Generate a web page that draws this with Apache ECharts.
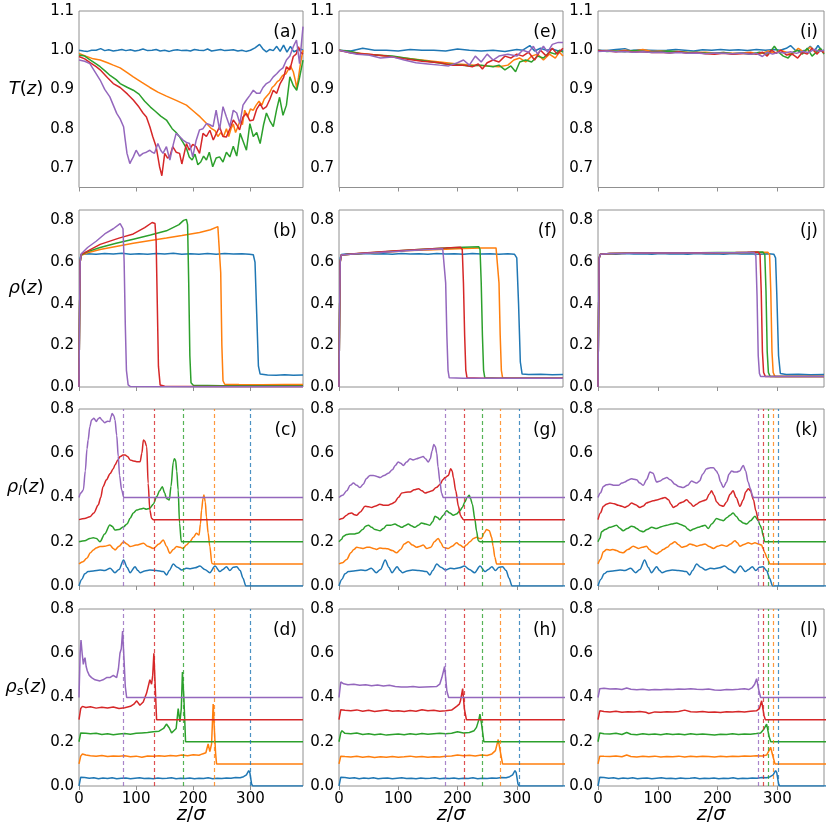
<!DOCTYPE html>
<html><head><meta charset="utf-8">
<script src="https://cdn.jsdelivr.net/npm/echarts@6/dist/echarts.min.js"></script>
<style>html,body{margin:0;padding:0;background:#fff}#c{width:830px;height:830px}</style>
</head><body><div id="c"></div>
<script>
// ---------- tick labels / categories ----------
const X_TICKS = [0, 100, 200, 300];
const Y_TICKS_T = [0.7, 0.8, 0.9, 1.0, 1.1];
const Y_TICKS_RHO = [0, 0.2, 0.4, 0.6, 0.8];
const PANEL_LABELS = [['(a)','(e)','(i)'],['(b)','(f)','(j)'],['(c)','(g)','(k)'],['(d)','(h)','(l)']];
// interface positions (dashed lines): blue, orange, green, red, purple
const FRONTS_COL1 = [300, 237, 183, 131, 78];
const FRONTS_COL2 = [303.5, 272, 242, 211, 180];
const FRONTS_COL3 = [302, 293, 285, 276.5, 268.7];

// ---------- T(z) panel (a) ----------
const T_a_blue = [[0,1.0],[8,0.998],[15,0.997],[22,1.0],[30,1.0],[38,1.004],[45,0.999],[52,1.001],[60,0.998],[68,1.0],[75,1.002],[82,0.999],[90,1.001],[98,0.998],[105,1.0],[112,1.003],[120,0.999],[128,1.0],[135,1.002],[142,0.998],[150,1.0],[158,0.997],[165,1.0],[172,1.001],[180,0.999],[188,1.0],[195,0.998],[202,1.002],[210,1.0],[218,0.999],[225,1.003],[232,0.998],[240,1.0],[248,1.002],[255,0.999],[262,1.0],[270,1.001],[278,0.998],[285,1.0],[292,0.997],[300,1.0],[308,1.006],[316,1.015],[322,1.003],[328,0.996],[334,1.002],[340,0.999],[346,1.01],[352,0.997],[358,1.013],[364,0.995],[370,1.01],[376,0.996],[382,1.0],[388,1.003],[392,1.0]];
const T_a_orange = [[0,0.992],[12,0.985],[25,0.978],[37,0.975],[50,0.968],[60,0.962],[72,0.955],[85,0.942],[95,0.932],[110,0.918],[124,0.905],[138,0.893],[153,0.883],[170,0.872],[188,0.86],[200,0.845],[212,0.83],[222,0.815],[232,0.80],[238,0.795],[243,0.78],[248,0.79],[253,0.78],[258,0.8],[262,0.78],[266,0.8],[270,0.812],[274,0.79],[278,0.805],[282,0.82],[286,0.81],[290,0.847],[295,0.83],[300,0.85],[305,0.847],[310,0.86],[315,0.87],[320,0.86],[324,0.875],[328,0.882],[333,0.89],[338,0.905],[342,0.91],[347,0.92],[351,0.924],[356,0.935],[362,0.94],[366,0.95],[370,0.96],[375,0.945],[379,0.92],[381,0.903],[384,0.93],[388,0.97],[392,1.0]];
const T_a_green = [[0,0.988],[10,0.985],[20,0.975],[30,0.965],[37,0.958],[45,0.948],[55,0.935],[65,0.925],[72,0.915],[85,0.905],[95,0.898],[105,0.888],[115,0.87],[125,0.855],[133,0.845],[143,0.832],[153,0.822],[163,0.80],[170,0.79],[176,0.779],[182,0.765],[188,0.75],[193,0.728],[198,0.72],[203,0.735],[208,0.708],[213,0.715],[218,0.73],[223,0.72],[228,0.74],[234,0.703],[240,0.725],[246,0.728],[252,0.715],[258,0.74],[264,0.728],[270,0.755],[276,0.73],[282,0.788],[288,0.765],[293,0.745],[299,0.813],[305,0.78],[311,0.79],[317,0.762],[323,0.81],[328,0.84],[334,0.82],[340,0.805],[346,0.85],[351,0.88],[357,0.834],[363,0.86],[369,0.932],[375,0.91],[381,0.898],[386,0.93],[392,0.975]];
const T_a_red = [[0,0.984],[10,0.978],[20,0.968],[30,0.958],[37,0.95],[50,0.93],[60,0.915],[72,0.905],[85,0.888],[95,0.873],[105,0.855],[112,0.84],[118,0.83],[124,0.805],[129,0.78],[135,0.754],[141,0.703],[145,0.68],[150,0.737],[155,0.725],[159,0.73],[164,0.754],[170,0.74],[176,0.737],[180,0.71],[188,0.762],[193,0.745],[199,0.76],[205,0.754],[211,0.737],[217,0.788],[223,0.78],[229,0.796],[235,0.771],[241,0.79],[246,0.805],[252,0.78],[258,0.779],[264,0.80],[270,0.822],[276,0.81],[281,0.797],[287,0.83],[293,0.839],[299,0.82],[305,0.822],[311,0.85],[317,0.864],[322,0.85],[328,0.856],[334,0.875],[340,0.898],[346,0.89],[352,0.915],[358,0.93],[363,0.958],[369,0.95],[375,0.984],[380,0.99],[384,1.009],[388,0.995],[392,0.99]];
const T_a_purple = [[0,0.975],[10,0.972],[19,0.966],[28,0.945],[37,0.924],[45,0.9],[54,0.881],[60,0.86],[66,0.839],[72,0.825],[78,0.805],[81,0.77],[84,0.737],[89,0.711],[92,0.72],[95,0.728],[100,0.745],[106,0.73],[112,0.737],[118,0.74],[124,0.745],[128,0.74],[132,0.737],[138,0.762],[143,0.745],[147,0.737],[153,0.754],[159,0.72],[165,0.76],[170,0.788],[176,0.78],[182,0.771],[188,0.765],[193.5,0.762],[199,0.728],[205,0.77],[211,0.797],[217,0.8],[223,0.813],[229,0.81],[234.6,0.805],[240,0.847],[246,0.797],[252,0.856],[258,0.83],[264,0.805],[270,0.847],[276,0.84],[281.5,0.813],[287,0.86],[293,0.873],[299,0.885],[305,0.898],[311,0.89],[316.5,0.89],[322,0.905],[328,0.915],[334,0.92],[340,0.932],[346,0.94],[351.5,0.949],[357,0.955],[363,0.975],[369,0.985],[375,1.009],[380.6,1.026],[386,0.966],[392,1.06]];

// ---------- T(z) panel (e) ----------
const T_e_blue = [[0,1.0],[20,0.998],[40,1.005],[60,1.0],[80,1.0],[100,0.998],[120,1.002],[140,1.0],[160,1.0],[180,0.998],[200,1.003],[220,1.0],[240,0.998],[260,1.0],[280,0.997],[300,1.002],[310,1.0],[322,1.012],[330,0.998],[340,1.005],[350,1.0],[360,1.003],[370,0.998],[378,1.0]];
const T_e_orange = [[0,1.0],[20,0.995],[50,0.99],[80,0.985],[110,0.98],[140,0.975],[170,0.97],[200,0.965],[230,0.962],[250,0.96],[270,0.958],[285,0.962],[295,0.975],[305,0.98],[315,0.97],[325,0.985],[335,0.99],[345,0.975],[355,0.99],[365,0.98],[372,0.995],[378,0.985]];
const T_e_green = [[0,1.0],[20,0.997],[40,0.99],[60,0.988],[90,0.985],[120,0.978],[150,0.972],[180,0.965],[200,0.963],[220,0.96],[240,0.962],[260,0.958],[270,0.962],[280,0.95],[290,0.96],[298,0.945],[305,0.97],[315,0.975],[325,0.97],[335,0.985],[345,0.98],[355,0.995],[365,0.99],[372,1.0],[378,0.995]];
const T_e_red = [[0,1.0],[20,0.993],[50,0.99],[80,0.985],[110,0.978],[140,0.972],[170,0.968],[190,0.962],[210,0.962],[225,0.958],[235,0.965],[242,0.952],[250,0.968],[260,0.975],[270,0.97],[280,0.985],[290,0.98],[300,0.99],[310,0.985],[320,0.995],[330,0.975],[340,1.0],[350,0.985],[360,1.005],[368,0.99],[378,1.005]];
const T_e_purple = [[0,1.0],[15,0.995],[30,0.99],[50,0.988],[70,0.98],[90,0.983],[110,0.975],[130,0.968],[150,0.965],[170,0.962],[185,0.96],[200,0.968],[210,0.975],[220,0.962],[230,0.985],[240,0.97],[250,0.99],[260,0.975],[270,0.985],[285,0.99],[300,0.985],[310,1.0],[320,0.995],[328,1.01],[335,0.99],[345,1.01],[352,0.995],[360,1.015],[370,1.02],[378,1.02]];

// ---------- T(z) panel (i) ----------
const T_i_blue = [[0,1.0],[15,0.999],[30,1.002],[45,1.004],[55,0.999],[70,1.001],[85,1.0],[100,0.999],[115,1.0],[130,1.002],[145,1.0],[160,0.998],[175,1.001],[190,1.0],[205,1.002],[220,1.0],[235,1.001],[250,0.999],[265,1.002],[280,1.0],[295,1.002],[305,1.0],[315,1.005],[322,1.012],[330,1.0],[340,0.998],[348,1.0],[355,1.01],[362,0.998],[368,1.012],[374,0.998],[378,1.0]];
const T_i_orange = [[0,0.998],[15,0.999],[30,0.997],[45,1.0],[60,0.998],[75,1.002],[90,0.997],[105,0.998],[120,0.996],[135,0.997],[150,0.995],[165,0.994],[180,0.995],[195,0.993],[210,0.994],[225,0.992],[240,0.993],[255,0.995],[270,0.99],[285,0.998],[295,0.992],[305,1.0],[315,0.995],[325,0.99],[335,1.005],[345,0.995],[355,1.008],[365,0.993],[372,1.0],[378,0.995]];
const T_i_green = [[0,1.0],[15,0.997],[30,0.998],[45,0.996],[60,0.999],[75,0.997],[90,0.995],[105,0.997],[120,0.998],[135,0.996],[150,0.994],[165,0.995],[180,0.993],[195,0.992],[210,0.994],[225,0.991],[240,0.993],[255,0.99],[270,0.995],[285,0.99],[295,1.01],[302,0.995],[310,0.985],[318,0.98],[326,0.995],[334,1.0],[342,0.99],[350,1.005],[358,0.985],[365,0.995],[372,1.005],[378,0.99]];
const T_i_red = [[0,0.999],[15,0.998],[30,0.996],[45,0.998],[60,0.995],[75,0.997],[90,0.994],[105,0.995],[120,0.993],[135,0.996],[150,0.992],[165,0.994],[180,0.991],[195,0.99],[210,0.992],[225,0.99],[240,0.991],[255,0.992],[265,0.99],[275,0.995],[283,0.985],[290,1.0],[298,0.992],[306,1.0],[315,0.988],[325,0.99],[334,0.98],[342,0.995],[350,0.99],[358,1.005],[366,0.99],[372,1.0],[378,0.993]];
const T_i_purple = [[0,0.997],[15,0.998],[30,0.996],[45,0.997],[60,0.995],[75,0.996],[90,0.994],[105,0.995],[120,0.993],[135,0.994],[150,0.992],[165,0.993],[180,0.991],[195,0.993],[210,0.992],[225,0.991],[240,0.993],[255,0.99],[265,0.992],[275,0.984],[283,0.995],[292,0.99],[302,0.995],[312,0.993],[322,0.996],[332,0.992],[342,0.997],[352,0.994],[362,1.002],[370,0.997],[378,1.0]];

// ---------- rho(z) panel (b) ----------
const rho_b_blue = [[0,0],[1,0.35],[2,0.62],[4,0.636],[15,0.64],[30,0.638],[45,0.641],[60,0.639],[75,0.642],[90,0.638],[105,0.64],[120,0.637],[135,0.641],[150,0.639],[165,0.642],[180,0.638],[195,0.64],[210,0.637],[225,0.641],[240,0.638],[255,0.641],[270,0.639],[285,0.64],[298,0.638],[305,0.635],[308,0.6],[311,0.35],[314,0.1],[317,0.062],[330,0.058],[345,0.057],[360,0.059],[375,0.057],[392,0.058]];
const rho_b_orange = [[0,0],[1,0.35],[2,0.6],[4,0.632],[15,0.645],[37,0.66],[60,0.672],[95,0.69],[125,0.703],[153,0.715],[180,0.727],[211,0.742],[230,0.755],[243,0.77],[246,0.765],[248,0.55],[250,0.2],[252,0.03],[255,0.013],[280,0.012],[320,0.011],[360,0.012],[392,0.012]];
const rho_b_green = [[0,0],[1,0.35],[2,0.6],[4,0.635],[15,0.65],[37,0.67],[65,0.69],[95,0.71],[125,0.73],[153,0.75],[175,0.78],[183,0.8],[188,0.805],[190,0.78],[192,0.5],[194,0.15],[196,0.02],[200,0.008],[250,0.006],[300,0.006],[392,0.006]];
const rho_b_red = [[0,0],[1,0.35],[2,0.6],[4,0.638],[10,0.645],[37,0.685],[70,0.715],[95,0.735],[115,0.765],[128,0.79],[133,0.785],[135,0.7],[137,0.4],[139,0.1],[142,0.01],[150,0.004],[250,0.003],[392,0.003]];
const rho_b_purple = [[0,0],[1,0.35],[2,0.6],[4,0.64],[15,0.67],[30,0.70],[45,0.735],[60,0.76],[72,0.785],[75,0.782],[77,0.76],[79,0.6],[81,0.3],[83,0.08],[86,0.01],[90,0.002],[200,0.001],[392,0.001]];

// ---------- rho(z) panel (f) ----------
const rho_f_blue = [[0,0],[1,0.35],[2,0.62],[4,0.636],[15,0.64],[30,0.638],[45,0.641],[60,0.639],[75,0.64],[90,0.638],[105,0.641],[120,0.639],[135,0.64],[150,0.638],[165,0.641],[180,0.639],[195,0.64],[210,0.638],[225,0.641],[240,0.639],[255,0.64],[270,0.638],[285,0.64],[296,0.638],[300,0.62],[303,0.4],[306,0.12],[309,0.062],[320,0.06],[340,0.061],[360,0.059],[378,0.06]];
const rho_f_orange = [[0,0],[1,0.35],[2,0.6],[4,0.634],[30,0.64],[60,0.645],[90,0.65],[120,0.655],[150,0.658],[180,0.662],[210,0.665],[240,0.667],[265,0.668],[268,0.66],[270,0.5],[272,0.25],[274,0.08],[276,0.045],[290,0.042],[330,0.042],[378,0.042]];
const rho_f_green = [[0,0],[1,0.35],[2,0.6],[4,0.634],[30,0.64],[60,0.646],[90,0.652],[120,0.658],[150,0.663],[180,0.667],[210,0.671],[236,0.673],[238,0.66],[240,0.5],[242,0.25],[244,0.08],[246,0.045],[270,0.042],[378,0.042]];
const rho_f_red = [[0,0],[1,0.35],[2,0.6],[4,0.634],[30,0.641],[60,0.647],[90,0.653],[120,0.658],[150,0.663],[180,0.667],[205,0.671],[208,0.66],[210,0.5],[212,0.25],[214,0.08],[216,0.045],[240,0.042],[378,0.042]];
const rho_f_purple = [[0,0],[1,0.35],[2,0.6],[4,0.634],[30,0.64],[60,0.645],[90,0.65],[120,0.655],[150,0.66],[175,0.664],[178,0.655],[180,0.5],[182,0.25],[184,0.08],[186,0.044],[210,0.042],[378,0.042]];

// ---------- rho(z) panel (j) ----------
const rho_j_blue = [[0,0],[1,0.35],[2,0.62],[4,0.637],[15,0.64],[30,0.638],[45,0.641],[60,0.639],[75,0.64],[90,0.638],[105,0.641],[120,0.639],[135,0.64],[150,0.638],[165,0.641],[180,0.639],[195,0.64],[210,0.638],[225,0.641],[240,0.639],[255,0.64],[270,0.638],[285,0.64],[294,0.638],[297,0.62],[299,0.45],[302,0.15],[305,0.065],[315,0.06],[335,0.061],[355,0.059],[378,0.06]];
const rho_j_orange = [[0,0],[1,0.35],[2,0.62],[4,0.637],[20,0.641],[50,0.642],[80,0.643],[110,0.643],[140,0.644],[170,0.644],[200,0.645],[230,0.645],[260,0.646],[284,0.647],[287,0.635],[289,0.46],[291,0.17],[293,0.07],[296,0.05],[330,0.05],[378,0.05]];
const rho_j_green = [[0,0],[1,0.35],[2,0.62],[4,0.637],[20,0.641],[50,0.642],[80,0.643],[110,0.644],[140,0.644],[170,0.645],[200,0.646],[230,0.646],[255,0.647],[276,0.648],[279,0.635],[281,0.46],[283,0.17],[285,0.07],[288,0.05],[330,0.05],[378,0.05]];
const rho_j_red = [[0,0],[1,0.35],[2,0.62],[4,0.637],[20,0.641],[50,0.642],[80,0.643],[110,0.643],[140,0.644],[170,0.645],[200,0.645],[230,0.646],[250,0.647],[268,0.648],[271,0.635],[273,0.46],[275,0.17],[277,0.07],[280,0.05],[330,0.05],[378,0.05]];
const rho_j_purple = [[0,0],[1,0.35],[2,0.62],[4,0.637],[20,0.641],[50,0.642],[80,0.643],[110,0.643],[140,0.644],[170,0.644],[200,0.645],[230,0.645],[250,0.646],[261,0.646],[264,0.63],[266,0.44],[268,0.15],[270,0.065],[272,0.05],[330,0.05],[378,0.05]];

// ---------- rho_l(z) ----------
const rhoL_blue = [[0,0],[5,0.03],[10,0.055],[16,0.065],[25,0.068],[37,0.072],[45,0.07],[54.6,0.08],[63,0.06],[70,0.075],[78,0.118],[84,0.085],[89.5,0.06],[98,0.087],[103,0.07],[107,0.06],[115,0.068],[124,0.072],[135,0.07],[147.6,0.065],[153.4,0.05],[158,0.07],[165,0.099],[172,0.085],[180,0.072],[188,0.08],[195,0.078],[203,0.082],[211.5,0.09],[220,0.075],[229,0.06],[238,0.09],[246.5,0.065],[252,0.075],[258,0.087],[264,0.07],[270,0.085],[276,0.087],[282,0.07],[287,0.035],[292,0.0],[392,0]];
const rhoL_c_orange = [[0,0.1],[7,0.11],[13.6,0.125],[20,0.15],[25,0.163],[30,0.172],[36.7,0.178],[45,0.18],[54,0.185],[60,0.17],[63,0.163],[70,0.18],[78,0.2],[84,0.19],[89.5,0.178],[100,0.185],[113,0.193],[120,0.18],[130,0.17],[140,0.19],[147.6,0.208],[153,0.18],[159,0.148],[165,0.165],[171,0.178],[177,0.175],[182,0.17],[188,0.185],[194,0.2],[200,0.22],[205.6,0.238],[210,0.23],[212.5,0.28],[214.5,0.343],[217,0.395],[218.6,0.411],[221,0.38],[223,0.313],[226,0.24],[229,0.178],[232.5,0.102],[235,0.1],[392,0.1]];
const rhoL_c_green = [[0,0.2],[10,0.205],[19,0.215],[25,0.218],[30.5,0.215],[36.7,0.2],[45,0.235],[54,0.276],[58,0.27],[63,0.253],[70,0.255],[78,0.268],[84,0.28],[89.5,0.306],[95,0.33],[101,0.343],[107,0.348],[113,0.351],[118,0.347],[124,0.351],[130,0.37],[136,0.404],[141,0.43],[145.7,0.449],[150,0.42],[153,0.396],[158,0.389],[161,0.45],[165,0.56],[167,0.575],[169,0.57],[171,0.52],[173.5,0.434],[176,0.283],[179,0.2],[392,0.2]];
const rhoL_c_red = [[0,0.3],[10,0.305],[19,0.313],[26,0.33],[33.6,0.366],[38,0.4],[42,0.449],[48,0.48],[54.6,0.509],[60,0.53],[63,0.547],[68,0.57],[72,0.585],[77,0.592],[80.7,0.592],[85,0.585],[89.5,0.57],[95,0.565],[101,0.562],[107,0.562],[110,0.6],[112.7,0.66],[115,0.655],[118.5,0.63],[121,0.464],[124,0.343],[127,0.306],[130,0.3],[392,0.3]];
const rhoL_c_purple = [[0,0.4],[3,0.42],[7.6,0.434],[11,0.52],[14,0.62],[16,0.66],[19,0.72],[22,0.75],[26,0.758],[30.5,0.743],[33,0.755],[36.7,0.762],[40,0.75],[45,0.738],[50,0.745],[54,0.743],[56,0.765],[58,0.78],[61,0.77],[63,0.75],[66,0.68],[68.7,0.585],[71,0.5],[74.6,0.434],[78.6,0.4],[392,0.4]];
const rhoL_g_orange = [[0,0.1],[6,0.105],[13,0.12],[20,0.15],[25,0.165],[30,0.175],[36,0.172],[41,0.17],[47,0.175],[52,0.175],[58,0.17],[63.5,0.165],[69,0.172],[75,0.17],[82,0.168],[90,0.16],[97,0.15],[104,0.165],[110,0.19],[117,0.2],[124,0.185],[131,0.175],[137,0.18],[142,0.185],[148,0.17],[155,0.175],[161,0.2],[167.5,0.215],[172,0.195],[176,0.175],[180,0.172],[184.5,0.17],[191,0.18],[198.5,0.195],[204,0.185],[210,0.175],[215,0.185],[221,0.2],[227,0.215],[232,0.22],[237,0.215],[240.6,0.215],[245,0.24],[249,0.255],[253.6,0.25],[257.6,0.22],[260,0.18],[263,0.13],[266,0.1],[392,0.1]];
const rhoL_g_green = [[0,0.2],[4,0.21],[7.4,0.225],[13,0.233],[18.5,0.235],[25,0.235],[32.6,0.24],[40,0.255],[45,0.27],[49.6,0.275],[55,0.265],[61,0.255],[69.2,0.25],[75,0.26],[80.5,0.275],[87,0.275],[94.5,0.28],[100,0.272],[106,0.265],[111,0.272],[117,0.28],[122,0.272],[128,0.265],[134,0.275],[139.4,0.285],[146,0.28],[153.4,0.275],[158,0.29],[162,0.315],[166,0.31],[170,0.3],[176,0.32],[181.6,0.34],[187,0.33],[193,0.32],[198,0.325],[204,0.34],[208,0.355],[212.5,0.38],[216,0.4],[219.8,0.41],[222,0.395],[225,0.37],[229.4,0.3],[232,0.25],[235,0.205],[238,0.2],[392,0.2]];
const rhoL_g_red = [[0,0.3],[6,0.305],[13,0.32],[17,0.328],[21.4,0.33],[26,0.322],[30,0.32],[36,0.335],[44,0.36],[50,0.358],[55,0.355],[62,0.362],[69,0.37],[76,0.365],[83,0.365],[89,0.372],[94.5,0.38],[100,0.4],[106,0.42],[113,0.424],[120,0.425],[127,0.435],[134,0.44],[140,0.43],[145.6,0.42],[151,0.425],[157,0.43],[164,0.445],[171,0.46],[175,0.48],[179,0.49],[184.5,0.5],[188.5,0.53],[191,0.52],[193,0.49],[197,0.43],[201.6,0.36],[205,0.32],[207,0.31],[210,0.3],[392,0.3]];
const rhoL_g_purple = [[0,0.4],[6,0.41],[13,0.43],[19,0.455],[24.3,0.465],[30,0.455],[35.4,0.445],[41,0.46],[46,0.485],[52.3,0.5],[58,0.5],[64,0.495],[69.2,0.49],[76,0.5],[83.4,0.51],[90,0.525],[95,0.545],[100,0.56],[104,0.555],[108.5,0.545],[114,0.56],[120,0.575],[125,0.57],[131,0.575],[136,0.58],[142,0.585],[146,0.575],[150.6,0.56],[154,0.575],[157,0.61],[160,0.64],[162.5,0.63],[165,0.6],[167,0.54],[170.4,0.47],[173,0.42],[176,0.4],[392,0.4]];
const rhoL_k_orange = [[0,0.1],[4,0.12],[9,0.155],[14.5,0.165],[20,0.162],[25,0.165],[31,0.16],[37,0.152],[42,0.15],[50,0.165],[59,0.18],[63,0.175],[67.4,0.17],[74,0.175],[81,0.18],[86,0.165],[90,0.155],[98,0.145],[104,0.155],[109,0.165],[116,0.175],[122,0.19],[128.7,0.2],[134,0.188],[140,0.175],[147,0.18],[154,0.19],[160,0.185],[165,0.18],[172,0.185],[179,0.19],[186,0.178],[193,0.17],[200,0.18],[207,0.185],[215,0.18],[222,0.19],[229,0.205],[233,0.195],[237.5,0.18],[244,0.188],[251.4,0.195],[257,0.19],[262.5,0.195],[268,0.19],[273.6,0.185],[276,0.17],[279,0.15],[283,0.125],[287.6,0.1],[392,0.1]];
const rhoL_k_green = [[0,0.2],[3,0.215],[6,0.245],[12,0.255],[20,0.265],[26,0.27],[31,0.275],[36,0.262],[42,0.25],[49,0.26],[56,0.27],[60,0.268],[64.6,0.26],[70,0.25],[75.8,0.245],[82,0.255],[90,0.265],[98,0.26],[106,0.268],[115,0.275],[123,0.28],[131.5,0.285],[138,0.278],[145.5,0.27],[150,0.258],[154,0.25],[160,0.258],[167.8,0.265],[173,0.27],[179,0.275],[184.5,0.26],[190,0.28],[198.5,0.305],[204,0.3],[209.6,0.295],[216,0.31],[221,0.32],[226,0.33],[231,0.315],[237.5,0.295],[243,0.285],[248.6,0.28],[255,0.295],[262.5,0.315],[268,0.295],[271,0.275],[273.6,0.26],[276,0.23],[279,0.2],[392,0.2]];
const rhoL_k_red = [[0,0.3],[4,0.33],[9,0.36],[14,0.37],[20,0.375],[27,0.372],[34,0.365],[40,0.36],[45,0.355],[50,0.362],[56,0.375],[63,0.367],[70,0.355],[76,0.362],[81,0.375],[86,0.38],[92,0.385],[100,0.39],[106,0.395],[112,0.4],[118,0.39],[122,0.37],[126,0.355],[131,0.362],[137,0.375],[142,0.38],[148.3,0.39],[154,0.375],[159.5,0.36],[165,0.37],[170.6,0.38],[176,0.385],[181,0.39],[186,0.415],[190,0.43],[194,0.41],[198.5,0.38],[204,0.365],[209.6,0.36],[215,0.38],[221,0.415],[226,0.43],[231,0.4],[237.5,0.36],[243,0.39],[247,0.425],[251.4,0.44],[255,0.43],[260,0.39],[264,0.34],[268,0.3],[392,0.3]];
const rhoL_k_purple = [[0,0.4],[4,0.42],[9,0.45],[14,0.458],[20,0.46],[27,0.455],[34,0.455],[40,0.465],[45,0.47],[50,0.478],[56,0.485],[60,0.483],[64.6,0.48],[70,0.465],[75.8,0.455],[81,0.48],[87,0.515],[92,0.51],[98,0.47],[104,0.475],[110,0.485],[115,0.49],[121,0.48],[128.7,0.46],[135,0.45],[142.6,0.445],[150,0.455],[156.5,0.475],[160,0.47],[165,0.465],[170,0.475],[175,0.505],[181.7,0.53],[188,0.535],[193,0.535],[198,0.52],[201,0.505],[205,0.47],[209.6,0.445],[215,0.47],[219,0.505],[223.5,0.52],[228,0.515],[232,0.515],[237,0.52],[243,0.545],[247,0.52],[251,0.47],[255,0.44],[258,0.41],[260,0.4],[392,0.4]];

// ---------- rho_s(z) ----------
const rhoS_blue = [[0,0],[3,0.04],[6,0.046],[10,0.038],[18,0.035],[26,0.037],[34,0.033],[42,0.036],[50,0.034],[58,0.037],[66,0.033],[74,0.035],[82,0.036],[90,0.033],[98,0.035],[106,0.037],[114,0.034],[122,0.035],[130,0.033],[138,0.036],[146,0.034],[154,0.035],[162,0.037],[170,0.033],[178,0.035],[186,0.034],[194,0.036],[202,0.033],[210,0.035],[218,0.034],[226,0.037],[234,0.033],[242,0.035],[250,0.034],[258,0.036],[266,0.035],[274,0.038],[282,0.037],[288,0.042],[293,0.05],[297,0.07],[299,0.06],[302,0.01],[304,0],[392,0]];
const rhoS_d_orange = [[0,0.1],[3,0.135],[6,0.145],[12,0.14],[20,0.137],[30,0.135],[40,0.138],[50,0.133],[60,0.136],[70,0.134],[80,0.137],[90,0.132],[100,0.135],[110,0.13],[120,0.136],[130,0.134],[140,0.137],[150,0.135],[160,0.138],[170,0.136],[180,0.14],[190,0.137],[200,0.141],[210,0.139],[216,0.145],[222,0.15],[226,0.19],[229,0.155],[232,0.19],[234.8,0.37],[237,0.25],[239,0.15],[240.7,0.1],[392,0.1]];
const rhoS_d_green = [[0,0.2],[3,0.24],[6,0.248],[12,0.238],[20,0.236],[30,0.238],[40,0.233],[50,0.236],[60,0.232],[70,0.235],[80,0.237],[90,0.234],[100,0.238],[110,0.24],[120,0.242],[130,0.245],[140,0.248],[148,0.26],[153,0.28],[158,0.262],[162,0.24],[166,0.25],[170,0.26],[173.6,0.35],[176.6,0.29],[179,0.35],[181,0.515],[183.5,0.4],[186.5,0.2],[392,0.2]];
const rhoS_d_red = [[0,0.3],[3,0.35],[6,0.36],[12,0.355],[20,0.358],[30,0.352],[40,0.356],[50,0.353],[60,0.357],[70,0.35],[80,0.354],[90,0.36],[96,0.37],[101,0.385],[106.6,0.365],[112.4,0.38],[118.3,0.42],[124,0.48],[127,0.46],[129,0.5],[131,0.6],[133.4,0.45],[135.8,0.3],[392,0.3]];
const rhoS_d_purple = [[0,0.4],[2,0.6],[3.5,0.66],[5.5,0.6],[7.6,0.55],[9,0.57],[10.5,0.58],[12.5,0.54],[14.6,0.52],[18,0.5],[22,0.49],[28,0.48],[36.7,0.475],[42,0.48],[48.3,0.49],[54,0.49],[60,0.5],[65.9,0.49],[69,0.53],[71.7,0.6],[74,0.62],[76.3,0.7],[79.2,0.55],[81,0.45],[83.4,0.4],[392,0.4]];
const rhoS_h_orange = [[0,0.1],[3,0.135],[5,0.142],[10,0.133],[20,0.131],[30,0.134],[40,0.13],[50,0.133],[60,0.129],[70,0.132],[80,0.13],[90,0.133],[100,0.13],[110,0.132],[120,0.135],[130,0.131],[140,0.133],[150,0.13],[160,0.132],[170,0.131],[180,0.134],[190,0.136],[200,0.14],[210,0.137],[220,0.139],[230,0.136],[240,0.14],[250,0.138],[258,0.145],[264,0.16],[268.7,0.21],[272.6,0.15],[276,0.1],[392,0.1]];
const rhoS_h_green = [[0,0.2],[3,0.24],[5,0.25],[10,0.238],[20,0.236],[30,0.24],[40,0.233],[50,0.236],[60,0.232],[70,0.235],[80,0.23],[90,0.233],[100,0.235],[110,0.232],[120,0.236],[130,0.233],[140,0.237],[150,0.234],[160,0.236],[170,0.238],[180,0.236],[190,0.238],[200,0.245],[210,0.24],[220,0.242],[228,0.25],[232,0.265],[236,0.3],[237.8,0.325],[240.6,0.28],[244.5,0.2],[392,0.2]];
const rhoS_h_red = [[0,0.3],[3,0.345],[5,0.352],[10,0.342],[20,0.34],[30,0.344],[40,0.338],[50,0.342],[60,0.337],[70,0.34],[80,0.343],[90,0.338],[100,0.34],[110,0.337],[120,0.341],[130,0.338],[140,0.345],[150,0.34],[160,0.342],[170,0.338],[180,0.34],[190,0.343],[198.5,0.36],[203,0.37],[205,0.385],[208.7,0.44],[211.5,0.35],[215,0.3],[392,0.3]];
const rhoS_h_purple = [[0,0.4],[3,0.47],[5,0.475],[8,0.462],[15,0.458],[25,0.46],[35,0.455],[45,0.458],[55,0.453],[65,0.456],[75,0.452],[85,0.455],[95,0.45],[105,0.448],[115,0.447],[125,0.45],[135,0.446],[145,0.448],[155,0.449],[165,0.45],[170,0.46],[173.6,0.49],[178.2,0.54],[182,0.43],[185,0.4],[392,0.4]];
const rhoS_l_orange = [[0,0.1],[3,0.135],[5,0.142],[10,0.134],[20,0.133],[30,0.136],[40,0.132],[48,0.14],[55,0.133],[65,0.131],[75,0.134],[85,0.132],[95,0.135],[105,0.131],[115,0.133],[125,0.132],[135,0.135],[145,0.131],[155,0.134],[165,0.132],[175,0.135],[185,0.133],[195,0.131],[205,0.134],[215,0.132],[225,0.135],[235,0.133],[245,0.136],[255,0.134],[265,0.137],[275,0.136],[282,0.14],[286,0.16],[288.7,0.175],[292,0.14],[296,0.1],[392,0.1]];
const rhoS_l_green = [[0,0.2],[3,0.24],[5,0.248],[10,0.236],[20,0.235],[30,0.238],[40,0.233],[48,0.242],[55,0.234],[65,0.232],[75,0.236],[85,0.233],[95,0.235],[105,0.232],[115,0.236],[125,0.233],[135,0.235],[145,0.232],[155,0.236],[165,0.233],[175,0.235],[185,0.233],[195,0.231],[205,0.234],[215,0.233],[225,0.236],[235,0.233],[245,0.235],[255,0.234],[265,0.237],[272,0.24],[277,0.255],[282,0.28],[286.5,0.22],[289,0.2],[392,0.2]];
const rhoS_l_red = [[0,0.3],[3,0.34],[5,0.348],[10,0.337],[20,0.335],[30,0.338],[40,0.333],[50,0.336],[60,0.334],[70,0.337],[80,0.333],[85,0.328],[95,0.335],[105,0.333],[115,0.336],[125,0.334],[135,0.337],[145,0.343],[155,0.336],[165,0.334],[175,0.337],[185,0.333],[195,0.335],[205,0.332],[215,0.336],[225,0.334],[235,0.337],[245,0.335],[255,0.338],[265,0.34],[270,0.35],[273.7,0.385],[277.6,0.32],[279.8,0.3],[392,0.3]];
const rhoS_l_purple = [[0,0.4],[3,0.44],[5,0.448],[10,0.442],[20,0.438],[30,0.44],[40,0.436],[48,0.443],[55,0.437],[65,0.435],[75,0.437],[85,0.434],[95,0.436],[105,0.435],[115,0.437],[125,0.436],[135,0.438],[145,0.437],[155,0.44],[165,0.437],[175,0.436],[185,0.438],[195,0.434],[205,0.433],[215,0.436],[225,0.435],[235,0.437],[245,0.44],[252,0.436],[258,0.445],[262,0.46],[265.3,0.485],[269.2,0.43],[272,0.4],[392,0.4]];

// ---------- assembly ----------
const PANELS = [
  [[T_a_blue,T_a_orange,T_a_green,T_a_red,T_a_purple],[T_e_blue,T_e_orange,T_e_green,T_e_red,T_e_purple],[T_i_blue,T_i_orange,T_i_green,T_i_red,T_i_purple]],
  [[rho_b_blue,rho_b_orange,rho_b_green,rho_b_red,rho_b_purple],[rho_f_blue,rho_f_orange,rho_f_green,rho_f_red,rho_f_purple],[rho_j_blue,rho_j_orange,rho_j_green,rho_j_red,rho_j_purple]],
  [[rhoL_blue,rhoL_c_orange,rhoL_c_green,rhoL_c_red,rhoL_c_purple],[rhoL_blue,rhoL_g_orange,rhoL_g_green,rhoL_g_red,rhoL_g_purple],[rhoL_blue,rhoL_k_orange,rhoL_k_green,rhoL_k_red,rhoL_k_purple]],
  [[rhoS_blue,rhoS_d_orange,rhoS_d_green,rhoS_d_red,rhoS_d_purple],[rhoS_blue,rhoS_h_orange,rhoS_h_green,rhoS_h_red,rhoS_h_purple],[rhoS_blue,rhoS_l_orange,rhoS_l_green,rhoS_l_red,rhoS_l_purple]]
];
const FRONTS = [FRONTS_COL1, FRONTS_COL2, FRONTS_COL3];

// layout & style
const COLORS = ['#1f77b4','#ff7f0e','#2ca02c','#d62728','#9467bd'];
const FONT = 'DejaVu Sans';
const SPINE = '#909090';
const GL = [79, 339, 598], GW = [224, 224, 226];
const GT = [11, 210, 409, 609], GH = [176.5, 177, 177, 177];
const XMAX = [392, 378, 378];
const YMIN = [0.65, 0, 0, 0], YMAX = [1.1, 0.85, 0.8, 0.8];
const YTICKS = [Y_TICKS_T, Y_TICKS_RHO, Y_TICKS_RHO, Y_TICKS_RHO];
const YNAMES = ['{it|T}{n|(}{it|z}{n|)}', '{it|ρ}{n|(}{it|z}{n|)}', '{it|ρ}{sub|l}{n|(}{it|z}{n|)}', '{it|ρ}{sub|s}{n|(}{it|z}{n|)}'];
const RICH = {
  it: {fontStyle:'italic', fontSize:18, fontFamily:FONT, lineHeight:22, color:'#000'},
  n: {fontSize:18, fontFamily:FONT, lineHeight:22, color:'#000'},
  sub: {fontStyle:'italic', fontSize:13, fontFamily:FONT, lineHeight:12, verticalAlign:'bottom', color:'#000'}
};
const RICH_X = {
  it: {fontStyle:'italic', fontSize:19, fontFamily:FONT, color:'#000'},
  n: {fontSize:19, fontFamily:FONT, color:'#000'}
};

const grids = [], xAxes = [], yAxes = [], series = [], graphics = [];
for (let r = 0; r < 4; r++) {
  for (let c = 0; c < 3; c++) {
    const idx = r * 3 + c;
    grids.push({left: GL[c], top: GT[r], width: GW[c], height: GH[r], show: true,
      borderColor: SPINE, borderWidth: 1, backgroundColor: 'transparent'});
    xAxes.push({gridIndex: idx, type: 'value', min: 0, max: XMAX[c],
      axisLine: {show: false},
      axisTick: {show: true, customValues: X_TICKS, length: 4, lineStyle: {color: SPINE}},
      axisLabel: {show: r === 3, customValues: X_TICKS, fontSize: 15, fontFamily: FONT, color: '#000', margin: 6},
      splitLine: {show: false}});
    yAxes.push({gridIndex: idx, type: 'value', min: YMIN[r], max: YMAX[r],
      axisLine: {show: false}, axisTick: {show: false},
      axisLabel: {customValues: YTICKS[r], formatter: v => Number(v).toFixed(1), fontSize: 15, fontFamily: FONT, color: '#000', margin: 5},
      splitLine: {show: false}});
    PANELS[r][c].forEach((data, k) => {
      const s = {type: 'line', xAxisIndex: idx, yAxisIndex: idx, data: data,
        showSymbol: false, symbol: 'none', clip: true,
        lineStyle: {width: 1.5, color: COLORS[k]}, itemStyle: {color: COLORS[k]},
        emphasis: {disabled: true}, silent: true, z: 2 + k};
      if (r === 2) { s.smooth = 0.3; s.smoothMonotone = 'x'; }
      if (r >= 2) {
        s.markLine = {silent: true, symbol: ['none','none'], label: {show: false},
          lineStyle: {type: [4, 3], width: 1.2, color: COLORS[k], opacity: 0.8},
          data: [{xAxis: FRONTS[c][k]}]};
      }
      series.push(s);
    });
    graphics.push({type: 'text', x: GL[c] + GW[c] - 6, y: GT[r] + 22,
      style: {text: PANEL_LABELS[r][c], fontSize: 17, fontFamily: FONT, fill: '#000', align: 'right', verticalAlign: 'middle'}});
  }
  graphics.push({type: 'text', x: 26, y: GT[r] + GH[r] / 2 + 1,
    style: {text: YNAMES[r], rich: RICH, align: 'center', verticalAlign: 'bottom', fill: '#000'}});
}
for (let c = 0; c < 3; c++) {
  graphics.push({type: 'text', x: GL[c] + GW[c] / 2, y: 815,
    style: {text: '{it|z}{n|/}{it|σ}', rich: RICH_X, align: 'center', verticalAlign: 'middle', fill: '#000'}});
}

const chart = echarts.init(document.getElementById('c'), null, {renderer: 'canvas'});
chart.setOption({
  animation: false,
  backgroundColor: '#fff',
  grid: grids, xAxis: xAxes, yAxis: yAxes, series: series, graphic: graphics
});
</script></body></html>
